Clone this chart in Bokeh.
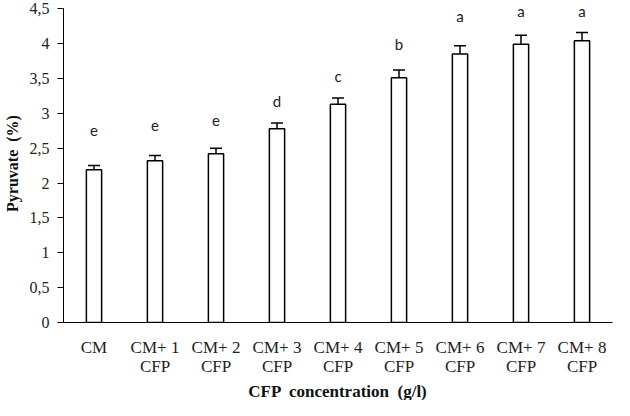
from bokeh.plotting import figure
from bokeh.models import (ColumnDataSource, FactorRange, Range1d, FixedTicker,
                          CustomJSTickFormatter, Whisker, TeeHead, Title)
from bokeh.core.properties import value
from bokeh.embed import file_html
from bokeh.resources import INLINE

categories = ["CM", "CM+ 1\nCFP", "CM+ 2\nCFP", "CM+ 3\nCFP", "CM+ 4\nCFP",
              "CM+ 5\nCFP", "CM+ 6\nCFP", "CM+ 7\nCFP", "CM+ 8\nCFP"]
pyruvate = [2.19, 2.32, 2.42, 2.78, 3.13, 3.51, 3.85, 3.99, 4.04]
errors = [0.06, 0.075, 0.08, 0.08, 0.09, 0.11, 0.12, 0.13, 0.12]
letters = ["e", "e", "e", "d", "c", "b", "a", "a", "a"]
letter_y = [2.75, 2.83, 2.90, 3.18, 3.53, 4.00, 4.39, 4.47, 4.47]
y_ticks = [0, 0.5, 1, 1.5, 2, 2.5, 3, 3.5, 4, 4.5]

src = ColumnDataSource(dict(
    x=categories, top=pyruvate,
    upper=[v + e for v, e in zip(pyruvate, errors)],
    lower=[v - e for v, e in zip(pyruvate, errors)],
    lab=letters, ly=letter_y,
))

p = figure(width=614, height=400, output_backend="svg", toolbar_location=None,
           x_range=FactorRange(*categories, range_padding=0),
           y_range=Range1d(0, 4.56),
           min_border_left=52, min_border_right=2, min_border_top=4,
           min_border_bottom=0)
p.outline_line_color = None
p.xgrid.visible = False
p.ygrid.visible = False
p.background_fill_color = "white"

p.vbar(x="x", top="top", width=0.25, source=src, fill_color="white",
       line_color="black", line_width=1.5)

w = Whisker(base="x", upper="upper", lower="lower", source=src,
            line_color="black", line_width=1.5,
            upper_head=TeeHead(size=12, line_color="black", line_width=1.5),
            lower_head=TeeHead(size=12, line_color="black", line_width=1.5))
p.add_layout(w)

p.text(x="x", y="ly", text="lab", source=src, text_align="center",
       text_baseline="middle", text_font=value("Lato"),
       text_font_size="15px", text_color="#222222")

# y axis
p.yaxis.ticker = FixedTicker(ticks=y_ticks)
p.yaxis.bounds = (0, 4.5)
p.yaxis.formatter = CustomJSTickFormatter(
    code="return (Math.round(tick*10)/10).toString().replace('.', ',');")
p.yaxis.major_tick_in = 0
p.yaxis.major_tick_out = 6
p.yaxis.minor_tick_line_color = None
p.yaxis.axis_line_color = "black"
p.yaxis.major_tick_line_color = "black"
p.yaxis.major_label_text_font = "Liberation Serif"
p.yaxis.major_label_text_font_size = "16px"
p.yaxis.major_label_text_color = "#222222"
p.yaxis.major_label_standoff = 8
p.yaxis.axis_label = "Pyruvate \u00a0(%)"
p.yaxis.axis_label_text_font = "Liberation Serif"
p.yaxis.axis_label_text_font_style = "bold"
p.yaxis.axis_label_text_font_size = "16px"
p.yaxis.axis_label_text_color = "#111111"
p.yaxis.axis_label_standoff = 6

# x axis
p.xaxis.major_tick_line_color = None
p.xaxis.minor_tick_line_color = None
p.xaxis.axis_line_color = "black"
p.xaxis.major_label_text_font = "Liberation Serif"
p.xaxis.major_label_text_font_size = "17px"
p.xaxis.major_label_text_color = "#222222"
p.xaxis.major_label_text_line_height = 1.05
p.xaxis.major_label_standoff = 9

x_title = Title(text="CFP \u00a0concentration \u00a0(g/l)", align="center",
                text_font="Liberation Serif", text_font_style="bold",
                text_font_size="17px", text_color="#111111",
                standoff=0, offset=0)
p.add_layout(x_title, "below")

open("out.html", "w").write(file_html(p, INLINE))
